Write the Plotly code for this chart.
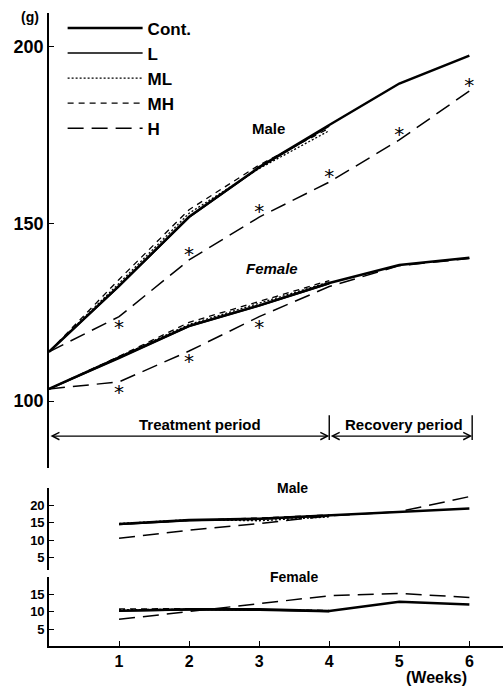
import plotly.graph_objects as go

# ---- data ----
weeks = [0, 1, 2, 3, 4, 5, 6]          # Cont. and H were followed into recovery
weeks_treat = [0, 1, 2, 3, 4]          # L, ML, MH stop at the end of treatment

# body weight (g), upper panel
male_cont = [113.9, 132.5, 152.0, 166.0, 177.9, 189.6, 197.5]
male_l = [113.9, 132.3, 151.8, 165.8, 177.6]
male_ml = [113.9, 133.2, 153.0, 165.6, 176.3]
male_mh = [113.9, 134.3, 154.0, 166.6, 177.0]
male_h = [113.9, 123.8, 139.8, 151.9, 161.8, 173.7, 187.5]

female_cont = [103.4, 112.2, 121.2, 127.0, 133.3, 138.4, 140.4]
female_l = [103.4, 112.0, 121.0, 126.8, 133.1]
female_ml = [103.4, 112.5, 121.6, 127.6, 133.6]
female_mh = [103.4, 112.6, 122.2, 128.2, 134.0]
female_h = [103.4, 105.4, 114.1, 123.8, 132.3, 138.2, 140.2]

# weekly weight gain (g), lower panels
gain_weeks = [1, 2, 3, 4, 5, 6]
gain_weeks_treat = [1, 2, 3, 4]

male_gain_cont = [14.6, 15.7, 16.1, 17.1, 18.1, 19.0]
male_gain_l = [14.4, 15.5, 15.9, 16.9]
male_gain_ml = [14.7, 15.8, 15.5, 16.6]
male_gain_mh = [14.5, 15.6, 16.3, 17.2]
male_gain_h = [10.5, 12.8, 14.7, 16.9, 18.1, 22.4]

female_gain_cont = [10.3, 10.7, 10.7, 10.2, 12.9, 12.1]
female_gain_l = [10.2, 10.5, 10.4, 10.0]
female_gain_ml = [10.6, 10.7, 10.5, 10.3]
female_gain_mh = [10.8, 10.9, 10.6, 10.4]
female_gain_h = [7.8, 10.0, 12.4, 14.6, 15.3, 14.1]

# significant H groups (*): which side of the line the star sits (+1 above, -1 below)
male_sig_weeks = [1, 2, 3, 4, 5, 6]
male_sig_side = [-1, 1, 1, 1, 1, 1]
female_sig_weeks = [1, 2, 3]
female_sig_side = [-1, -1, -1]

groups = ["Cont.", "L", "ML", "MH", "H"]
weight_series = {
    "Cont.": (weeks, male_cont, female_cont),
    "L": (weeks_treat, male_l, female_l),
    "ML": (weeks_treat, male_ml, female_ml),
    "MH": (weeks_treat, male_mh, female_mh),
    "H": (weeks, male_h, female_h),
}
gain_series = {
    "Cont.": (gain_weeks, male_gain_cont, female_gain_cont),
    "L": (gain_weeks_treat, male_gain_l, female_gain_l),
    "ML": (gain_weeks_treat, male_gain_ml, female_gain_ml),
    "MH": (gain_weeks_treat, male_gain_mh, female_gain_mh),
    "H": (gain_weeks, male_gain_h, female_gain_h),
}

# ---- styling ----
FONT = "Liberation Sans, Arial, sans-serif"
line_styles = {
    "Cont.": dict(color="black", width=2.5, dash="solid"),
    "L": dict(color="black", width=1.5, dash="solid"),
    "ML": dict(color="black", width=1.3, dash="2px,2px"),
    "MH": dict(color="black", width=1.3, dash="6px,5px"),
    "H": dict(color="black", width=1.5, dash="16px,8px"),
}

fig = go.Figure()

for g in groups:
    x, m, f = weight_series[g]
    fig.add_trace(go.Scatter(
        x=list(x) + [None] + list(x), y=m + [None] + f,
        mode="lines", name=g, line=line_styles[g],
        xaxis="x", yaxis="y", showlegend=True,
    ))

for g in groups:
    x, m, f = gain_series[g]
    fig.add_trace(go.Scatter(x=x, y=m, mode="lines", line=line_styles[g],
                             xaxis="x2", yaxis="y2", showlegend=False))
    fig.add_trace(go.Scatter(x=x, y=f, mode="lines", line=line_styles[g],
                             xaxis="x3", yaxis="y3", showlegend=False))

# asterisks next to the H points
STAR_GAP = 2.3    # data units away from the line
STAR_RISE = 1.2   # the '*' glyph sits high in its text box
star_x, star_y = [], []
for w, s in zip(male_sig_weeks, male_sig_side):
    star_x.append(w)
    star_y.append(male_h[weeks.index(w)] + s * STAR_GAP - STAR_RISE)
for w, s in zip(female_sig_weeks, female_sig_side):
    star_x.append(w)
    star_y.append(female_h[weeks.index(w)] + s * STAR_GAP - STAR_RISE)
fig.add_trace(go.Scatter(
    x=star_x, y=star_y, mode="text", text=["*"] * len(star_x),
    textposition="middle center",
    textfont=dict(family="DejaVu Sans", size=20, color="black"),
    xaxis="x", yaxis="y", showlegend=False,
))

X_MAX = 6.48
bold = dict(family=FONT, color="black", weight="bold")

def yax(domain, rng, ticks, size):
    return dict(domain=domain, range=rng, tickvals=ticks, showgrid=False,
                zeroline=False, showline=True, linecolor="black", linewidth=1.6,
                ticks="inside", ticklen=5, tickwidth=1.4, tickcolor="black",
                tickfont=dict(bold, size=size))

fig.update_layout(
    width=504, height=689,
    margin=dict(l=49, r=1, t=0, b=0),
    paper_bgcolor="white", plot_bgcolor="white",
    font=dict(family=FONT, color="black"),
    xaxis=dict(domain=[0, 1], range=[0, X_MAX], visible=False, anchor="y"),
    xaxis2=dict(domain=[0, 1], range=[0, X_MAX], visible=False, anchor="y2"),
    xaxis3=dict(domain=[0, 1], range=[0, X_MAX], anchor="y3", tickvals=[1, 2, 3, 4, 5, 6],
                showgrid=False, zeroline=False, showline=True, linecolor="black",
                linewidth=1.6, ticks="inside", ticklen=5, tickwidth=1.4,
                tickcolor="black", tickfont=dict(bold, size=16)),
    yaxis=yax([0.3208, 0.9811], [81.1, 209.5], [100, 150, 200], 18),
    yaxis2=yax([0.1727, 0.2917], [1.43, 24.86], [5, 10, 15, 20], 13),
    yaxis3=yax([0.0628, 0.1630], [0.2, 20.1], [5, 10, 15], 13),
    legend=dict(x=0.03, y=0.985, xanchor="left", yanchor="top",
                font=dict(bold, size=17), itemwidth=75,
                bgcolor="rgba(0,0,0,0)", tracegroupgap=0),
)

# period arrows and dividers in the upper panel
ARROW_Y = 90.1
for x0, x1 in [(0, 4), (4, 6.04)]:
    fig.add_annotation(x=x1, y=ARROW_Y, ax=x0, ay=ARROW_Y, xref="x", yref="y",
                       axref="x", ayref="y", text="", showarrow=True,
                       arrowhead=5, arrowside="end+start", arrowsize=1.2,
                       arrowwidth=1.2, arrowcolor="black", standoff=0, startstandoff=0)
for xv in [4, 6.04]:
    fig.add_shape(type="line", xref="x", yref="y", x0=xv, x1=xv, y0=89.0, y1=96.0,
                  line=dict(color="black", width=1.4))

labels = [
    ("Treatment period", 2.15, 93.3, "x", "y", 15),
    ("Recovery period", 5.07, 93.3, "x", "y", 15),
    ("Male", 3.13, 177.0, "x", "y", 15),
    ("<i>Female</i>", 3.18, 137.3, "x", "y", 15),
    ("Male", 3.48, 24.8, "x2", "y2", 14),
    ("Female", 3.5, 20.0, "x3", "y3", 14),
]
for txt, x, y, xr, yr, sz in labels:
    fig.add_annotation(x=x, y=y, xref=xr, yref=yr, text=txt, showarrow=False,
                       xanchor="center", yanchor="middle", font=dict(bold, size=sz))

fig.add_annotation(x=-0.042, y=0.9753, xref="paper", yref="paper", text="(g)",
                   showarrow=False, xanchor="center", yanchor="middle",
                   font=dict(bold, size=14))
fig.add_annotation(x=0.854, y=0.0174, xref="paper", yref="paper", text="(Weeks)",
                   showarrow=False, xanchor="center", yanchor="middle",
                   font=dict(bold, size=16))

# the page body has a default 8px margin; drop it so the figure sits at the corner
fig.write_html("out.html", config={"displayModeBar": False},
               post_script="document.body.style.margin='0px';")
